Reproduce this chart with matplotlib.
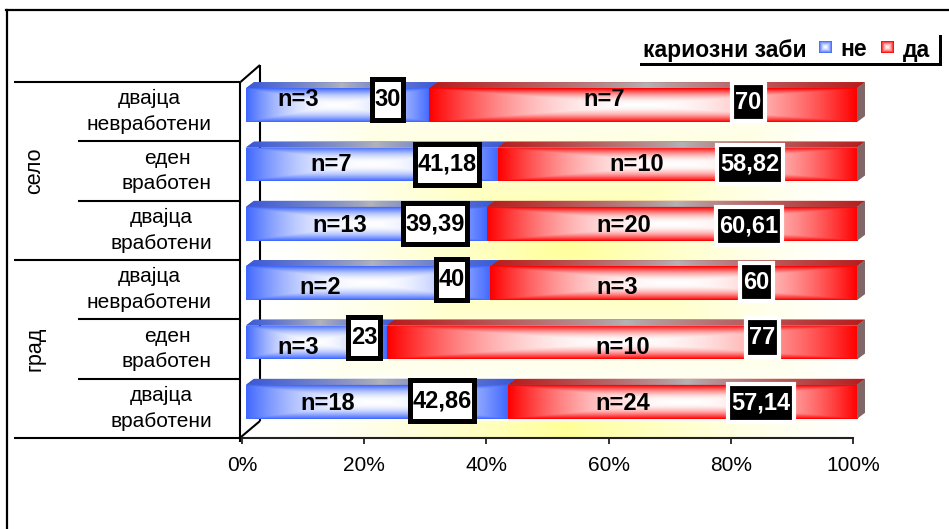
import numpy as np
import matplotlib
matplotlib.use("Agg")
import matplotlib.pyplot as plt
import matplotlib.colors as mcolors
from matplotlib.patches import Polygon, Rectangle
from matplotlib.path import Path

plt.rcParams["font.family"] = ["Liberation Sans", "DejaVu Sans"]

# ---- data ----
group_names = ["село", "град"]
row_labels = ["двајца\nневработени", "еден\nвработен", "двајца\nвработени",
              "двајца\nневработени", "еден\nвработен", "двајца\nвработени"]
pct_no = [30, 41.18, 39.39, 40, 23, 42.86]
pct_yes = [70, 58.82, 60.61, 60, 77, 57.14]
n_no = [3, 7, 13, 2, 3, 18]
n_yes = [7, 10, 20, 3, 10, 24]
x_ticks = [0, 20, 40, 60, 80, 100]
x_tick_labels = ["0%", "20%", "40%", "60%", "80%", "100%"]
legend_title = "кариозни заби"
series_labels = ["не", "да"]

# ---- label placement (x in axis percent, nudges in px, + = down) ----
n_no_x = [8.5, 14.0, 15.3, 12.2, 8.5, 13.3]
n_yes_x = [58.6, 64.0, 61.9, 60.7, 61.7, 61.7]
n_nudge = [-6, 0, 2, 4, 5, 2]
tag_no_x = [23.2, 32.9, 30.9, 33.7, 19.3, 32.1]
tag_no_nudge = [-6, 0, 0, -4, -5, -1]
tag_yes_x = [82.2, 82.5, 82.3, 83.5, 84.5, 84.3]
tag_yes_nudge = [-3, 0, 2.5, -1, -5, 1]

BLUE = "#4068ff"
RED = "#ff0000"
BLUE_TOP = "#3a58d8"
RED_TOP = "#b81c1c"
TOP_MID = "#b4b4b8"
SIDE = "#806666"
YELLOW = np.array([1.0, 1.0, 0.6])

W, H = 949, 529
PT = 72 / 100  # points per pixel
fig = plt.figure(figsize=(W / 100, H / 100), dpi=100)


def rect(x0, y0, x1, y1):
    return [x0 / W, 1 - y1 / H, (x1 - x0) / W, (y1 - y0) / H]


def center_fade(color, nx=240, ny=40, power=2.0):
    """Rectangular 'from centre' gradient: white centre, solid colour at the rim."""
    u = np.linspace(-1, 1, nx)
    v = np.linspace(-1, 1, ny)
    U, V = np.meshgrid(u, v)
    t = np.maximum(np.abs(U), np.abs(V))
    w = 1 - t ** power
    base = np.array(mcolors.to_rgb(color))
    return base + (1 - base) * w[..., None]


def side_fade(edge, mid, nx=200):
    """Horizontal gradient edge -> mid -> edge for the top faces."""
    s = np.abs(np.linspace(-1, 1, nx)) ** 0.8
    e = np.array(mcolors.to_rgb(edge))
    m = np.array(mcolors.to_rgb(mid))
    row = m + (e - m) * s[:, None]
    return np.repeat(row[None, :, :], 4, axis=0)


def tag_box(padx, pady):
    def box(x0, y0, width, height, mutation_size):
        dx, dy = padx * mutation_size, pady * mutation_size
        return Path([(x0 - dx, y0 - dy), (x0 + width + dx, y0 - dy),
                     (x0 + width + dx, y0 + height + dy),
                     (x0 - dx, y0 + height + dy), (x0 - dx, y0 - dy)],
                    closed=True)
    return box


def fmt(v):
    return f"{v:g}".replace(".", ",")


# ---- geometry of the 3-D plot box (pixels from top-left) ----
FRONT = (242, 82, 853, 438)   # front plane
DEPTH = (18, -17)             # back wall offset
BAR_SHIFT = (4, -6.5)         # bars sit half-way into the box
FACE = (8, -6)                # depth of each bar's top/side face
X_OVER = 4                    # room right of 100 % for side faces
BAR_H = 0.573

nrows = len(pct_no)
rows = np.arange(nrows)
ylims = (nrows - 0.5, -0.5)
fx0, fy0, fx1, fy1 = FRONT
sx = (fx1 - fx0) / 100
sy = (fy1 - fy0) / nrows

# canvas axes in pixel units for walls, table and legend
ax_bg = fig.add_axes([0, 0, 1, 1], zorder=0)
ax_bg.axis("off")

ax_front = fig.add_axes(rect(*FRONT), zorder=1)
ax_front.set_xlim(0, 100)
ax_front.set_ylim(*ylims)
ax_front.patch.set_visible(False)

bx0 = fx0 + BAR_SHIFT[0]
ax_bar = fig.add_axes(rect(bx0, fy0 + BAR_SHIFT[1], bx0 + sx * (100 + X_OVER),
                           fy1 + BAR_SHIFT[1]), zorder=2)
ax_bar.axis("off")

# ---- back wall + floor gradient ----
wx0, wy0 = fx0 + DEPTH[0], fy0 + DEPTH[1]
wx1, wy1 = fx1 + DEPTH[0], fy1 + DEPTH[1]
gx = np.arange(fx0, wx1) + 0.5
gy = np.arange(wy0, fy1) + 0.5
GX, GY = np.meshgrid(gx, gy)
cx, cy = (wx0 + wx1) / 2, (wy0 + wy1) / 2
hx, hy = (wx1 - wx0) / 2, (wy1 - wy0) / 2
t = np.maximum(np.abs(GX - cx) / hx, np.abs(GY - cy) / hy)
t = np.where(GY > wy1, np.abs(GX - cx) / hx, t)
w = np.clip(1 - t, 0, 1) ** 1.5
wall_img = 1 - (1 - YELLOW) * w[..., None]
wall_im = ax_bg.imshow(wall_img, extent=(fx0, wx1, fy1, wy0), aspect="auto",
                       interpolation="bilinear", zorder=0)
wall_shape = Polygon([(wx0, wy0), (wx1, wy0), (wx1, wy1), (fx1, fy1),
                      (fx0, fy1), (wx0, wy1)], closed=True, fill=False, lw=0)
ax_bg.add_patch(wall_shape)
wall_im.set_clip_path(wall_shape)

line_kw = dict(color="black", lw=1.5, solid_capstyle="butt", clip_on=False)
tx = fx0 - 1.5
ax_bg.plot([wx0, wx0], [wy0, wy1], **line_kw)
ax_bg.plot([tx, wx0], [fy0, wy0], **line_kw)
ax_bg.plot([tx + 0.5, wx0], [fy1 - 1, wy1], **line_kw)

# outer frame
ax_bg.plot([7, 7], [10, H + 5], color="black", lw=1.6, clip_on=False)
ax_bg.plot([6.4, W + 5], [10, 10], color="black", lw=1.6, clip_on=False)


def front_row_px(r):
    return H - ax_front.transData.transform((0, r))[1]


# ---- category table ----
for r in (-0.5, 2.5, 5.5):
    y = front_row_px(r)
    ax_bg.plot([14, tx], [y, y], **line_kw)
for r in (0.5, 1.5, 3.5, 4.5):
    y = front_row_px(r)
    ax_bg.plot([78, tx], [y, y], **line_kw)
ax_bg.plot([tx, tx], [front_row_px(-0.5), front_row_px(5.5) + 4], **line_kw)

for i, lab in enumerate(row_labels):
    ax_bg.text(212, front_row_px(i), lab, ha="right", va="center",
               multialignment="center", fontsize=15, linespacing=1.45)
for g, name in enumerate(group_names):
    ax_bg.text(35, front_row_px(3 * g + 1), name, rotation=90, ha="center",
               va="center", fontsize=15.5)

# ---- percentage axis ----
for s in ("top", "right", "left"):
    ax_front.spines[s].set_visible(False)
ax_front.spines["bottom"].set_linewidth(1.5)
ax_front.spines["bottom"].set_color("#222222")
ax_front.set_xticks(x_ticks, x_tick_labels)
ax_front.set_yticks([])
ax_front.tick_params(axis="x", direction="out", length=4, width=1.3,
                     color="#222222", pad=9, labelsize=15)

# ---- bars ----
bars_no = ax_bar.barh(rows, pct_no, height=BAR_H, color=BLUE, lw=0, zorder=2)
bars_yes = ax_bar.barh(rows, pct_yes, left=pct_no, height=BAR_H, color=RED,
                       lw=0, zorder=2)

fdx = FACE[0] / sx
fdy = FACE[1] / sy
for bars, col, top_col, last in ((bars_no, BLUE, BLUE_TOP, False),
                                 (bars_yes, RED, RED_TOP, True)):
    for p in bars:
        x0 = p.get_x()
        x1 = x0 + p.get_width()
        yt = p.get_y()
        yb = yt + p.get_height()
        im = ax_bar.imshow(center_fade(col), extent=(x0, x1, yb, yt),
                           aspect="auto", interpolation="bilinear", zorder=3)
        im.set_clip_path(p)
        top = Polygon([(x0, yt), (x1, yt), (x1 + fdx, yt + fdy),
                       (x0 + fdx, yt + fdy)], closed=True, fc=top_col, lw=0,
                      zorder=2)
        ax_bar.add_patch(top)
        tim = ax_bar.imshow(side_fade(top_col, TOP_MID),
                            extent=(x0, x1 + fdx, yt, yt + fdy), aspect="auto",
                            interpolation="bilinear", zorder=3)
        tim.set_clip_path(top)
        if last:
            ax_bar.add_patch(Polygon([(x1, yt), (x1 + fdx, yt + fdy),
                                      (x1 + fdx, yb + fdy), (x1, yb)],
                                     closed=True, fc=SIDE, lw=0, zorder=3))

# ---- labels on the bars ----
for i in rows:
    ax_bar.annotate(f"n={n_no[i]}", (n_no_x[i], i),
                    xytext=(0, -n_nudge[i] * PT), textcoords="offset points",
                    ha="center", va="center", fontsize=17, fontweight="bold",
                    zorder=6)
    ax_bar.annotate(f"n={n_yes[i]}", (n_yes_x[i], i),
                    xytext=(0, -n_nudge[i] * PT), textcoords="offset points",
                    ha="center", va="center", fontsize=17, fontweight="bold",
                    zorder=6)
    ax_bar.annotate(fmt(pct_no[i]), (tag_no_x[i], i),
                    xytext=(0, -tag_no_nudge[i] * PT),
                    textcoords="offset points", ha="center", va="center",
                    fontsize=17, fontweight="bold", zorder=7,
                    bbox=dict(boxstyle=tag_box(0.1, 0.38), fc="white",
                              ec="black", lw=3.6))
    ax_bar.annotate(fmt(pct_yes[i]), (tag_yes_x[i], i),
                    xytext=(0, -tag_yes_nudge[i] * PT),
                    textcoords="offset points", ha="center", va="center",
                    fontsize=17, fontweight="bold", color="white", zorder=7,
                    bbox=dict(boxstyle=tag_box(0.15, 0.32), fc="black",
                              ec="white", lw=3))

# ---- legend ----
ax_bg.add_patch(Rectangle((640, 35), 302, 31, fc="black", lw=0, zorder=3))
ax_bg.add_patch(Rectangle((637, 32), 302, 31, fc="white", lw=0, zorder=4))
ax_bg.text(643, 50, legend_title, ha="left", va="center", fontsize=16.5,
           fontweight="bold", zorder=5)
for (mx, tx_lab), col, lab in zip(((819, 840), (881, 903)), (BLUE, RED),
                                  series_labels):
    ax_bg.imshow(center_fade(col, 24, 24, 1.5), extent=(mx, mx + 13, 53, 41),
                 aspect="auto", interpolation="bilinear", zorder=5)
    ax_bg.text(tx_lab, 50, lab, ha="left", va="center", fontsize=16.5,
               fontweight="bold", zorder=5)

# final limits (imshow calls rescale)
ax_bg.set_xlim(0, W)
ax_bg.set_ylim(H, 0)
ax_bar.set_xlim(0, 100 + X_OVER)
ax_bar.set_ylim(*ylims)

fig.savefig("out.png", dpi=100)
